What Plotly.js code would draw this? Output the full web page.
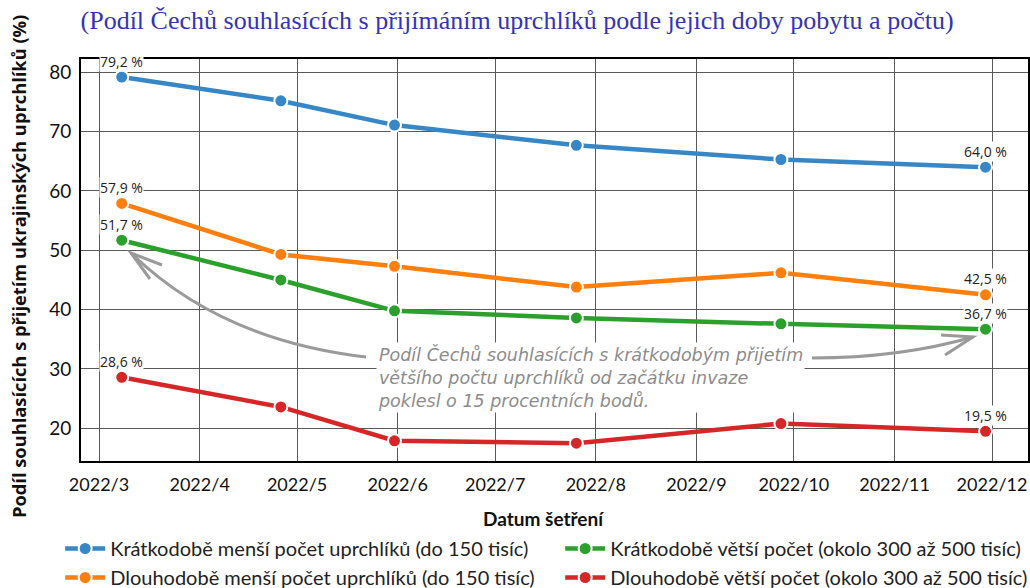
<!DOCTYPE html>
<html><head><meta charset="utf-8">
<script src="https://cdn.plot.ly/plotly-3.0.1.min.js"></script>
<style>html,body{margin:0;padding:0;background:#fff}</style>
</head><body><div id="chart" style="width:1030px;height:588px"></div>
<script>
const surveyDates = ['2022-03-08','2022-04-26','2022-05-31','2022-07-26','2022-09-27','2022-11-29'];
const shortSmall = [79.2, 75.2, 71.1, 67.7, 65.3, 64.0];
const shortLarge = [51.7, 45.0, 39.8, 38.6, 37.6, 36.7];
const longSmall  = [57.9, 49.3, 47.3, 43.8, 46.2, 42.5];
const longLarge  = [28.6, 23.6, 17.9, 17.5, 20.8, 19.5];
const seriesNames = [
  'Krátkodobě menší počet uprchlíků (do 150 tisíc)',
  'Krátkodobě větší počet (okolo 300 až 500 tisíc)',
  'Dlouhodobě menší počet uprchlíků (do 150 tisíc)',
  'Dlouhodobě větší počet (okolo 300 až 500 tisíc)'
];
const seriesValues = [shortSmall, shortLarge, longSmall, longLarge];
const seriesColors = ['#3787c6', '#2ca02c', '#ff7f0e', '#d62728'];
const tickDates = ['2022-03-01','2022-04-01','2022-05-01','2022-06-01','2022-07-01','2022-08-01','2022-09-01','2022-10-01','2022-11-01','2022-12-01'];
const tickLabels = ['2022/3','2022/4','2022/5','2022/6','2022/7','2022/8','2022/9','2022/10','2022/11','2022/12'];
const subtitle = '(Podíl Čechů souhlasících s přijímáním uprchlíků podle jejich doby pobytu a počtu)';
const yTitle = 'Podíl souhlasících s přijetím ukrajinských uprchlíků (%)';
const xTitle = 'Datum šetření';
const calloutText = 'Podíl Čechů souhlasících s krátkodobým přijetím<br>většího počtu uprchlíků od začátku invaze<br>poklesl o 15 procentních bodů.';

const W = 1030, H = 588;
const M = {l: 81, r: 2, t: 59, b: 127, autoexpand: false};
const pw = W - M.l - M.r, ph = H - M.t - M.b;
const px = X => (X - M.l) / pw;
const py = Y => (H - M.b - Y) / ph;

const traces = seriesValues.map((vals, i) => ({
  type: 'scatter', mode: 'lines+markers',
  x: surveyDates, y: vals, name: seriesNames[i],
  line: {color: seriesColors[i], width: 4.5},
  marker: {color: seriesColors[i], size: 13, line: {color: '#fff', width: 2}},
  cliponaxis: false
}));

const fmt = v => v.toFixed(1).replace('.', ',') + ' %';
const annotations = [];
seriesValues.forEach(vals => {
  [0, vals.length - 1].forEach(k => {
    annotations.push({
      x: surveyDates[k], y: vals[k], xref: 'x', yref: 'y',
      text: fmt(vals[k]), showarrow: false, yshift: 16,
      font: {family: 'Open Sans, sans-serif', size: 14, color: '#222'},
      bgcolor: '#fff', borderpad: 0
    });
  });
});
annotations.push({
  xref: 'paper', yref: 'paper', x: px(376), y: py(377),
  xanchor: 'left', yanchor: 'middle', align: 'left', showarrow: false,
  text: '<i>' + calloutText + '</i>',
  font: {family: 'DejaVu Sans, sans-serif', size: 17.5, color: '#8c8c8c'},
  bgcolor: '#fff', borderpad: 1
});
annotations.push({
  xref: 'paper', yref: 'paper', x: px(18), y: py(267),
  xanchor: 'center', yanchor: 'middle', showarrow: false, textangle: -90,
  text: '<b>' + yTitle + '</b>',
  font: {family: 'Open Sans, sans-serif', size: 18.3, color: '#111'}
});
annotations.push({
  xref: 'paper', yref: 'paper', x: px(543), y: py(518),
  xanchor: 'center', yanchor: 'middle', showarrow: false,
  text: '<b>' + xTitle + '</b>',
  font: {family: 'Lato, sans-serif', size: 19, color: '#111'}
});

function pathP(cmds) {
  return cmds.map(c => c[0] + ' ' + c.slice(1).map((v, j) => (j % 2 === 0 ? px(v) : py(v)).toFixed(5)).join(' ')).join(' ');
}
const arrowStyle = {color: '#9a9a9a', width: 3};
const shapes = [
  {type: 'path', xref: 'paper', yref: 'paper', line: arrowStyle,
   path: pathP([['M', 366, 357], ['Q', 220, 340, 131, 253]])},
  {type: 'path', xref: 'paper', yref: 'paper', line: arrowStyle,
   path: pathP([['M', 150, 279], ['L', 131, 253], ['L', 162, 265]])},
  {type: 'path', xref: 'paper', yref: 'paper', line: arrowStyle,
   path: pathP([['M', 812, 358], ['Q', 900, 358, 973, 337]])},
  {type: 'path', xref: 'paper', yref: 'paper', line: arrowStyle,
   path: pathP([['M', 941, 335], ['L', 973, 337], ['L', 945, 355]])}
];

const layout = {
  width: W, height: H, margin: M,
  paper_bgcolor: '#fff', plot_bgcolor: '#fff',
  font: {family: 'Lato, sans-serif', color: '#111'},
  title: {text: subtitle, x: 0.502, xref: 'container', xanchor: 'center', y: 1 - 20 / H, yanchor: 'middle', yref: 'container',
          font: {family: 'Liberation Serif, serif', size: 26, color: '#3434b4'}},
  xaxis: {type: 'date', range: ['2022-02-23 11:00', '2022-12-12 02:00'],
          tickvals: tickDates, ticktext: tickLabels, tickfont: {size: 18, color: '#111'},
          showgrid: true, gridcolor: '#5a5a5a', gridwidth: 1,
          showline: true, linecolor: '#000', linewidth: 2, mirror: true, ticks: '', ticklabelstandoff: 6,
          zeroline: false},
  yaxis: {range: [14.49, 82.24], tickvals: [20, 30, 40, 50, 60, 70, 80], tickfont: {size: 19, color: '#111'},
          showgrid: true, gridcolor: '#5a5a5a', gridwidth: 1,
          showline: true, linecolor: '#000', linewidth: 2, mirror: true, ticks: '', ticklabelstandoff: 4,
          zeroline: false},
  legend: {orientation: 'h', x: -0.022, xanchor: 'left', y: py(529), yanchor: 'top',
           itemwidth: 40, entrywidth: 445, entrywidthmode: 'pixels', font: {size: 20, color: '#222'},
           tracegroupgap: 0, bgcolor: 'rgba(0,0,0,0)'},
  annotations: annotations, shapes: shapes, showlegend: true
};

Plotly.newPlot('chart', traces, layout, {displayModeBar: false, responsive: false});
</script>
</body></html>
